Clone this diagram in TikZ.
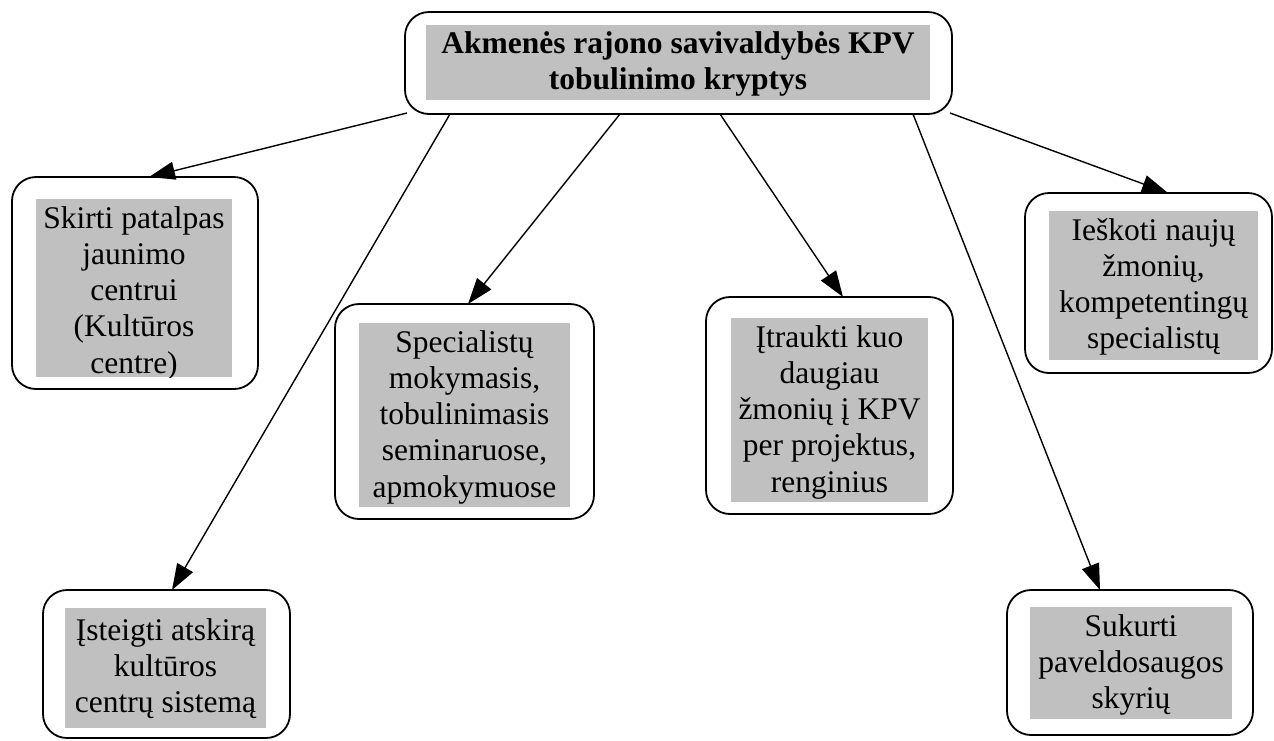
\documentclass[tikz,border=0pt]{standalone}
\usepackage{fontspec}
\setmainfont{Liberation Serif}
\usetikzlibrary{arrows.meta,calc}
\definecolor{panelgray}{HTML}{C0C0C0}
\begin{document}
\begin{tikzpicture}[x=1pt,y=-1pt,
  frame/.style={draw, line width=1.8pt, rounded corners=24pt, inner sep=0pt, outer sep=0pt, anchor=north west},
  panel/.style={fill=panelgray, draw=none, inner sep=0pt, outer sep=0pt, anchor=north west},
  label/.style={anchor=north, inner sep=0pt, align=center, font=\fontsize{31.5}{36.2}\selectfont},
  link/.style={line width=1.4pt, -{Triangle[length=26pt,width=18pt]}}
]
\fill[white] (0,0) rectangle (1274,740);
\useasboundingbox (0,0) rectangle (1274,740);

% outer rounded frames
\node[frame, minimum width=547pt, minimum height=102pt] (top) at (405,12) {};
\node[frame, minimum width=246pt, minimum height=212pt] (b1) at (12,177) {};
\node[frame, minimum width=247pt, minimum height=148pt] (b2) at (43,590) {};
\node[frame, minimum width=259pt, minimum height=215pt] (b3) at (335,304) {};
\node[frame, minimum width=247pt, minimum height=217pt] (b4) at (706,297) {};
\node[frame, minimum width=247pt, minimum height=180pt] (b5) at (1025,193) {};
\node[frame, minimum width=246pt, minimum height=145pt] (b6) at (1007,590) {};

% grey text panels
\node[panel, minimum width=504pt, minimum height=75pt] (g0) at (426,25) {};
\node[panel, minimum width=196pt, minimum height=178pt] (g1) at (36,199) {};
\node[panel, minimum width=201pt, minimum height=120pt] (g2) at (65,608) {};
\node[panel, minimum width=211pt, minimum height=184pt] (g3) at (359,323) {};
\node[panel, minimum width=197pt, minimum height=184pt] (g4) at (731,318) {};
\node[panel, minimum width=209pt, minimum height=149pt] (g5) at (1049,211) {};
\node[panel, minimum width=202pt, minimum height=112pt] (g6) at (1030,607) {};

% texts, cut off at the lower edge of their panels
\begin{scope}
\clip (g0.south west) rectangle (g0.north east);
\node[label, font=\fontsize{31.5}{36.2}\selectfont\bfseries] (t0) at (g0.north) {\rule{0pt}{28pt}Akmenės rajono savivaldybės KPV\\tobulinimo kryptys};
\end{scope}
\begin{scope}
\clip (g1.south west) rectangle (g1.north east);
\node[label] (t1) at (g1.north) {\rule{0pt}{29pt}Skirti patalpas\\jaunimo\\centrui\\(Kultūros\\centre)};
\end{scope}
\begin{scope}
\clip (g2.south west) rectangle (g2.north east);
\node[label] (t2) at (g2.north) {\rule{0pt}{32pt}Įsteigti atskirą\\kultūros\\centrų sistemą};
\end{scope}
\begin{scope}
\clip (g3.south west) rectangle (g3.north east);
\node[label] (t3) at (g3.north) {\rule{0pt}{29pt}Specialistų\\mokymasis,\\tobulinimasis\\seminaruose,\\apmokymuose};
\end{scope}
\begin{scope}
\clip (g4.south west) rectangle (g4.north east);
\node[label] (t4) at (g4.north) {\rule{0pt}{29pt}Įtraukti kuo\\daugiau\\žmonių į KPV\\per projektus,\\renginius};
\end{scope}
\begin{scope}
\clip (g5.south west) rectangle (g5.north east);
\node[label] (t5) at (g5.north) {\rule{0pt}{29pt}Ieškoti naujų\\žmonių,\\kompetentingų\\specialistų};
\end{scope}
\begin{scope}
\clip (g6.south west) rectangle (g6.north east);
\node[label] (t6) at (g6.north) {\rule{0pt}{29pt}Sukurti\\paveldosaugos\\skyrių};
\end{scope}

% connectors from the heading to each direction
\draw[link] ($(top.south west)+(2,-1)$) -- ($(b1.north west)+(137,0)$);
\draw[link] ($(top.south west)+(45,0)$) -- ($(b2.north west)+(129,0)$);
\draw[link] ($(top.south west)+(215,0)$) -- ($(b3.north west)+(133,0)$);
\draw[link] ($(top.south west)+(315,0)$) -- ($(b4.north west)+(137,0)$);
\draw[link] ($(top.south west)+(508,0)$) -- ($(b6.north west)+(93,0)$);
\draw[link] ($(top.south east)+(-2,-1)$) -- ($(b5.north west)+(143,0)$);
\end{tikzpicture}
\end{document}
